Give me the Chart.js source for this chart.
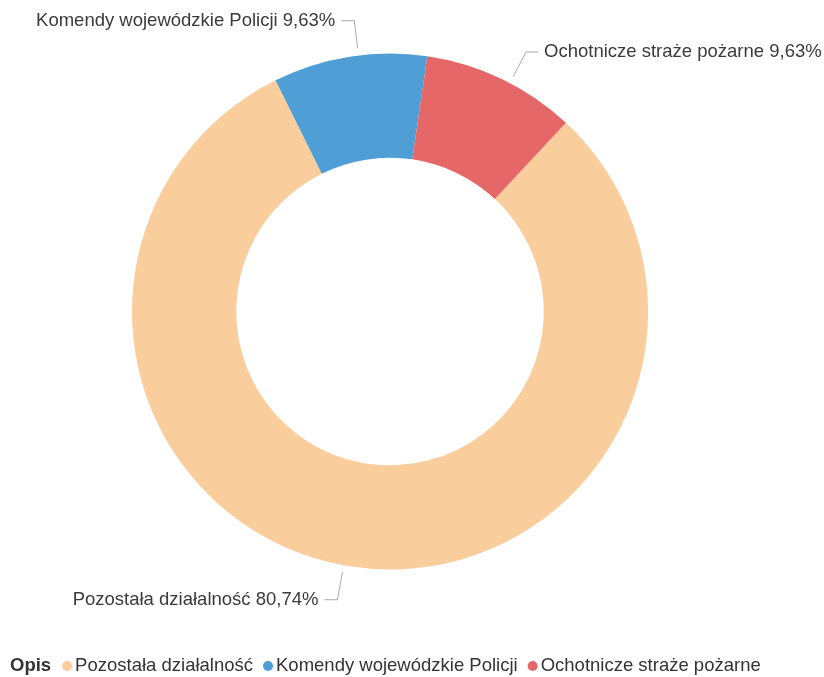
<!DOCTYPE html>
<html>
<head>
<meta charset="utf-8">
<script src="https://cdn.jsdelivr.net/npm/chart.js@4/dist/chart.umd.min.js"></script>
<style>
  body { margin: 0; background: #fff; }
  #wrap { width: 824px; height: 677px; position: relative; }
</style>
</head>
<body>
<div id="wrap"><canvas id="opisChart" width="824" height="677"></canvas></div>
<script>
const labels = ["Pozostała działalność", "Komendy wojewódzkie Policji", "Ochotnicze straże pożarne"];
const shares = [80.74, 9.63, 9.63];
const colors = ["#FACD9C", "#4F9FD6", "#E66767"];
const legendTitle = "Opis";

const fontFamily = "'Liberation Sans', Arial, sans-serif";

// leader-line labels outside each slice
const outsideLabels = {
  id: "outsideLabels",
  afterDatasetsDraw(chart) {
    const c = chart.ctx;
    const meta = chart.getDatasetMeta(0);
    c.save();
    c.font = "18.5px " + fontFamily;
    c.textBaseline = "middle";
    meta.data.forEach((arc, i) => {
      const p = arc.getProps(["x", "y", "startAngle", "endAngle", "outerRadius"], true);
      const mid = (p.startAngle + p.endAngle) / 2 + 2 * Math.PI / 180;
      const cos = Math.cos(mid), sin = Math.sin(mid);
      const sx = p.x + cos * (p.outerRadius + 7), sy = p.y + sin * (p.outerRadius + 7);
      const ex = p.x + cos * (p.outerRadius + 35), ey = p.y + sin * (p.outerRadius + 35);
      const right = cos >= 0;
      const hx = ex + (right ? 12 : -13);
      c.strokeStyle = "#aaa";
      c.lineWidth = 1;
      c.beginPath();
      c.moveTo(sx, sy);
      c.lineTo(ex, ey);
      c.lineTo(hx, ey);
      c.stroke();
      const txt = labels[i] + " " + shares[i].toFixed(2).replace(".", ",") + "%";
      c.fillStyle = "#3a3a3a";
      c.textAlign = right ? "left" : "right";
      c.fillText(txt, hx + (right ? 6 : -6), ey);
    });
    c.restore();
  }
};

// inline legend with bold title in front
const inlineLegend = {
  id: "inlineLegend",
  afterDraw(chart) {
    const c = chart.ctx;
    const y = 666;
    let x = 10;
    c.save();
    c.textBaseline = "middle";
    c.textAlign = "left";
    c.fillStyle = "#333";
    c.font = "bold 18.5px " + fontFamily;
    c.fillText(legendTitle, x, y);
    x += c.measureText(legendTitle).width + 11;
    c.font = "18.5px " + fontFamily;
    labels.forEach((l, i) => {
      c.fillStyle = colors[i];
      c.beginPath();
      c.arc(x + 5, y, 5, 0, Math.PI * 2);
      c.fill();
      x += 13;
      c.fillStyle = "#333";
      c.fillText(l, x, y);
      x += c.measureText(l).width + 10;
    });
    c.restore();
  }
};

new Chart(document.getElementById("opisChart"), {
  type: "doughnut",
  data: {
    labels: labels,
    datasets: [{
      data: shares,
      backgroundColor: colors,
      borderWidth: 0,
      hoverOffset: 0
    }]
  },
  options: {
    responsive: false,
    animation: false,
    cutout: "59.6%",
    rotation: 43,
    layout: { padding: { top: 53, bottom: 107, left: 132, right: 176 } },
    plugins: {
      legend: { display: false },
      tooltip: { enabled: false }
    }
  },
  plugins: [outsideLabels, inlineLegend]
});
</script>
</body>
</html>
